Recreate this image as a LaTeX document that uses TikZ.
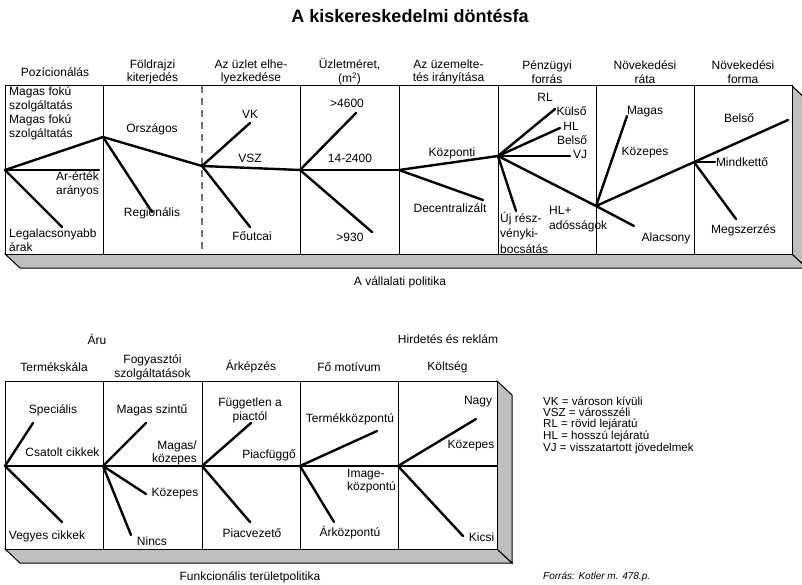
\documentclass[tikz,border=0pt]{standalone}
\usepackage{fontspec}
\setmainfont{Liberation Sans}
\begin{document}
\begin{tikzpicture}[x=1pt,y=-1pt,
  lbl/.style={inner sep=0pt, font=\fontsize{12}{13.8}\selectfont},
  hdr/.style={lbl, align=center},
  branch/.style={line width=2.4pt, line cap=round},
  frontface/.style={draw, line width=1pt, fill=white},
  slab/.style={draw, line width=1pt, fill=black!25},
  divider/.style={line width=0.9pt},
  dashdiv/.style={line width=1.1pt, draw=black!55, dash pattern=on 7pt off 5pt},
]
\useasboundingbox (0,0) rectangle (802,585);

% ---------- title ----------
\node[inner sep=0pt, font=\fontsize{18}{20}\selectfont\bfseries] (title) at (410,16) {A kiskereskedelmi döntésfa};

% ---------- upper box: corporate policy ----------
\path[slab] (5,254) -- (792,254) -- (807,268) -- (20,268) -- cycle;
\path[slab] (792,86) -- (807,100) -- (807,268) -- (792,254) -- cycle;
\path[frontface] (5,86) rectangle (792,254);
\foreach \x in {103,300,399,498,596,694} \draw[divider] (\x,86) -- (\x,254);
\draw[dashdiv] (202,86) -- (202,254);

% column headings
\node[hdr] (h1) at (55,72) {Pozícionálás};
\node[hdr] (h2) at (152.5,72) {Földrajzi\\kiterjedés};
\node[hdr] (h3) at (251,72) {Az üzlet elhe-\\lyezkedése};
\node[hdr] (h4) at (349.5,72) {Üzletméret,\\(m\textsuperscript{2})};
\node[hdr] (h5) at (448.5,72) {Az üzemelte-\\tés irányítása};
\node[hdr] (h6) at (547,72) {Pénzügyi\\forrás};
\node[hdr] (h7) at (645,72) {Növekedési\\ráta};
\node[hdr] (h8) at (743,72) {Növekedési\\forma};

% junctions
\coordinate (A) at (5,170);
\coordinate (B) at (103,137);
\coordinate (C) at (202,166);
\coordinate (D) at (300,170);
\coordinate (E) at (399,170);
\coordinate (F) at (498,156);
\coordinate (G) at (596,206);
\coordinate (H) at (694,162);
% branch ends
\coordinate (a2) at (99,170);
\coordinate (a3) at (62,227);
\coordinate (b2) at (152,212);
\coordinate (c1) at (250,123);
\coordinate (c2) at (250,227);
\coordinate (d1) at (356,113);
\coordinate (d2) at (372,232);
\coordinate (e2) at (483,200);
\coordinate (f1) at (555,109);
\coordinate (f2) at (560,128);
\coordinate (f3) at (570,156);
\coordinate (f4) at (516,211);
\coordinate (g1) at (627,116);
\coordinate (g2) at (634,226);
\coordinate (g3) at (788,120);
\coordinate (h1e) at (715,162);
\coordinate (h2e) at (736,219);

\draw[branch] (A) -- (B);
\draw[branch] (A) -- (a2);
\draw[branch] (A) -- (a3);
\draw[branch] (B) -- (C);
\draw[branch] (B) -- (b2);
\draw[branch] (C) -- (c1);
\draw[branch] (C) -- (c2);
\draw[branch] (C) -- (D);
\draw[branch] (D) -- (d1);
\draw[branch] (D) -- (d2);
\draw[branch] (D) -- (E);
\draw[branch] (E) -- (F);
\draw[branch] (E) -- (e2);
\draw[branch] (F) -- (f1);
\draw[branch] (F) -- (f2);
\draw[branch] (F) -- (f3);
\draw[branch] (F) -- (f4);
\draw[branch] (F) -- (G);
\draw[branch] (G) -- (g1);
\draw[branch] (G) -- (g2);
\draw[branch] (G) -- (g3);
\draw[branch] (H) -- (h1e);
\draw[branch] (H) -- (h2e);

% option labels
\node[lbl, align=left, anchor=west] (t1) at (9,113.5) {Magas fokú\\szolgáltatás\\Magas fokú\\szolgáltatás};
\node[lbl, align=right, anchor=east] (t2) at (99,183.5) {Ár-érték\\arányos};
\node[lbl, align=left, anchor=west] (t3) at (9,240) {Legalacsonyabb\\árak};
\node[lbl] (t4) at (152,129) {Országos};
\node[lbl] (t5) at (152,213) {Regionális};
\node[lbl] (t6) at (250,114) {VK};
\node[lbl] (t7) at (250,158) {VSZ};
\node[lbl] (t8) at (252,236) {Főutcai};
\node[lbl] (t9) at (347,103) {>4600};
\node[lbl] (t10) at (350,158) {14-2400};
\node[lbl] (t11) at (350,237) {>930};
\node[lbl] (t12) at (452,153) {Központi};
\node[lbl] (t13) at (450,208) {Decentralizált};
\node[lbl] (t14) at (545,97) {RL};
\node[lbl] (t15) at (571.5,111) {Külső};
\node[lbl] (t16) at (571,126) {HL};
\node[lbl] (t17) at (572,140) {Belső};
\node[lbl] (t18) at (580,154) {VJ};
\node[lbl, align=left, anchor=west, font=\fontsize{12}{15.5}\selectfont] (t19) at (500,232.5) {Új rész-\\vényki-\\bocsátás};
\node[lbl, align=left, anchor=west, font=\fontsize{12}{15}\selectfont] (t20) at (549,219.5) {HL+\\adósságok};
\node[lbl] (t21) at (645,112) {Magas};
\node[lbl] (t22) at (645,153) {Közepes};
\node[lbl] (t23) at (666,238) {Alacsony};
\node[lbl] (t24) at (739,118) {Belső};
\node[lbl] (t25) at (742,162) {Mindkettő};
\node[lbl] (t26) at (743.5,230) {Megszerzés};

\node[lbl] (cap1) at (400,282) {A vállalati politika};

% ---------- lower box: functional policy ----------
\path[slab] (5,549) -- (497,549) -- (512,563) -- (20,563) -- cycle;
\path[slab] (497,381) -- (512,395) -- (512,563) -- (497,549) -- cycle;
\path[frontface] (5,381) rectangle (497,549);
\foreach \x in {103,202,300,398} \draw[divider] (\x,381) -- (\x,549);

\node[hdr] (gA) at (97,339) {Áru};
\node[hdr] (gB) at (448,339) {Hirdetés és reklám};
\node[hdr] (k1) at (54,367) {Termékskála};
\node[hdr] (k2) at (152.5,367) {Fogyasztói\\szolgáltatások};
\node[hdr] (k3) at (251,367) {Árképzés};
\node[hdr] (k4) at (349,367) {Fő motívum};
\node[hdr] (k5) at (447.5,367) {Költség};

\coordinate (P1) at (5,466);
\coordinate (P2) at (103,466);
\coordinate (P3) at (202,466);
\coordinate (P4) at (300,466);
\coordinate (P5) at (398,466);
\coordinate (P6) at (497,466);
\coordinate (p1a) at (33,423);
\coordinate (p1b) at (62,522);
\coordinate (p2a) at (146,423);
\coordinate (p2b) at (146,494);
\coordinate (p2c) at (131,535);
\coordinate (p3a) at (251,423);
\coordinate (p3b) at (250,522);
\coordinate (p4a) at (377,431);
\coordinate (p4b) at (334,522);
\coordinate (p5a) at (476,419);
\coordinate (p5b) at (463,536);

\draw[branch] (P1) -- (P2) -- (P3) -- (P4) -- (P5) -- (P6);
\draw[branch] (P1) -- (p1a);
\draw[branch] (P1) -- (p1b);
\draw[branch] (P2) -- (p2a);
\draw[branch] (P2) -- (p2b);
\draw[branch] (P2) -- (p2c);
\draw[branch] (P3) -- (p3a);
\draw[branch] (P3) -- (p3b);
\draw[branch] (P4) -- (p4a);
\draw[branch] (P4) -- (p4b);
\draw[branch] (P5) -- (p5a);
\draw[branch] (P5) -- (p5b);

\node[lbl] (u1) at (53,410) {Speciális};
\node[lbl] (u2) at (62.5,452) {Csatolt cikkek};
\node[lbl] (u3) at (47,536) {Vegyes cikkek};
\node[lbl] (u4) at (152,410) {Magas szintű};
\node[lbl, align=right, anchor=east, font=\fontsize{12}{13}\selectfont] (u5) at (197,452.5) {Magas/\\közepes};
\node[lbl] (u6) at (175,494) {Közepes};
\node[lbl] (u7) at (152,541) {Nincs};
\node[lbl, align=center] (u8) at (250,410) {Független a\\piactól};
\node[lbl] (u9) at (269,455) {Piacfüggő};
\node[lbl] (u10) at (252,533) {Piacvezető};
\node[lbl] (u11) at (350,419) {Termékközpontú};
\node[lbl, align=left, anchor=west, font=\fontsize{12}{12.5}\selectfont] (u12) at (347,481) {Image-\\központú};
\node[lbl] (u13) at (350,533) {Árközpontú};
\node[lbl] (u14) at (478,402) {Nagy};
\node[lbl] (u15) at (471,446) {Közepes};
\node[lbl] (u16) at (481.5,537) {Kicsi};

\node[lbl] (cap2) at (250,577) {Funkcionális területpolitika};

% ---------- abbreviations and source ----------
\node[lbl, align=left, anchor=north west, font=\fontsize{11.6}{10.8}\selectfont] (legend) at (543,397) {VK = városon kívüli\\VSZ = városszéli\\RL = rövid lejáratú\\HL = hosszú lejáratú\\VJ = visszatartott jövedelmek};
\node[inner sep=0pt, anchor=west, font=\fontsize{10}{12}\selectfont\itshape] (src) at (543,577) {Forrás: Kotler m. 478.p.};
\end{tikzpicture}
\end{document}
